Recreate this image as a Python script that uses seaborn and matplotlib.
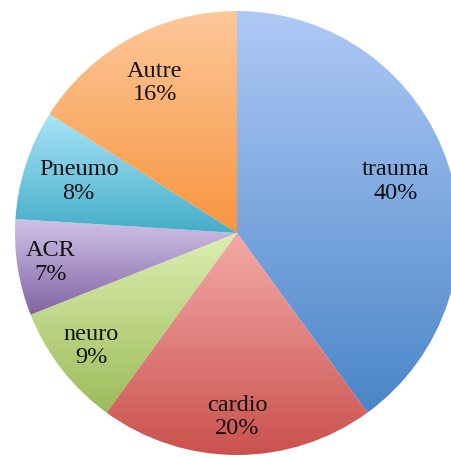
import numpy as np
import matplotlib.pyplot as plt
import seaborn as sns
from matplotlib.colors import LinearSegmentedColormap

# slices, clockwise from 12 o'clock
labels = ["trauma", "cardio", "neuro", "ACR", "Pneumo", "Autre"]
shares = [40, 20, 9, 7, 8, 16]

# Excel-like vertical gradient per slice (top -> bottom)
top_colors = ["#afc9f6", "#f4aba8", "#dcefb0", "#d0c2e8", "#a8e4f7", "#fdc89b"]
bottom_colors = ["#4a86c8", "#ca514d", "#9cbb5a", "#8164a2", "#44adc8", "#f7953f"]
label_dist = [0.75, 0.83, 0.83, 0.85, 0.75, 0.77]

sns.set_style("white")

fig = plt.figure(figsize=(4.51, 4.57), dpi=100)
ax = fig.add_axes([0, 0, 1, 1])

wedges, _ = ax.pie(shares, startangle=90, counterclock=False, radius=1)

grad = np.linspace(0, 1, 256).reshape(-1, 1)
for w, c_top, c_bot, lab, val, d in zip(wedges, top_colors, bottom_colors,
                                        labels, shares, label_dist):
    w.set_facecolor("none")
    w.set_edgecolor("none")
    ext = w.get_path().get_extents()
    cmap = LinearSegmentedColormap.from_list("g", [c_top, c_bot])
    im = ax.imshow(grad, cmap=cmap, extent=[ext.x0, ext.x1, ext.y0, ext.y1],
                   origin="upper", aspect="auto", interpolation="bilinear")
    im.set_clip_path(w)

    mid = np.deg2rad((w.theta1 + w.theta2) / 2)
    ax.text(d * np.cos(mid), d * np.sin(mid), f"{lab}\n{val}%",
            ha="center", va="center", fontsize=17.5, family="Liberation Serif",
            linespacing=1.15, color="#111111")

# pie centre sits at (237, 233) px with radius 222 px
ax.set_xlim(-237 / 222, 214 / 222)
ax.set_ylim(-224 / 222, 233 / 222)
ax.set_aspect("auto")
ax.axis("off")

fig.savefig("out.png", dpi=100)
